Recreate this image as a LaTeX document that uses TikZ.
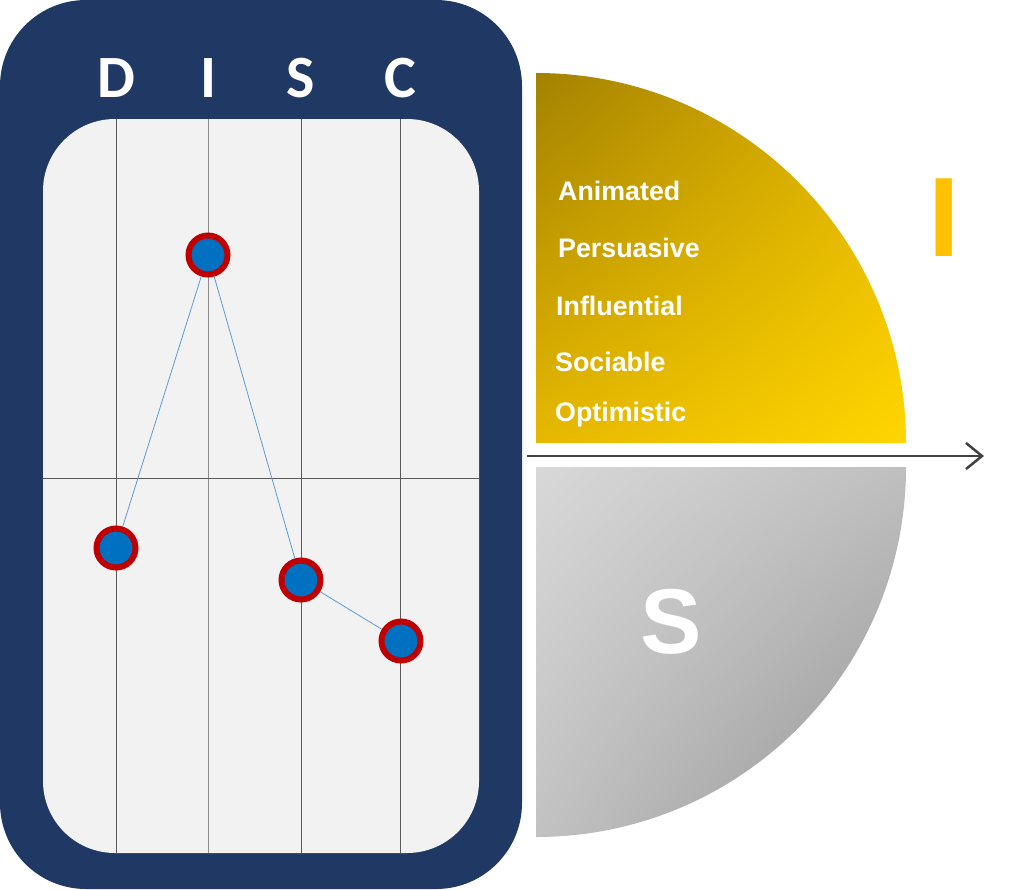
\documentclass[tikz,border=0pt]{standalone}
\usepackage{fontspec}
\setmainfont{Liberation Sans}
\newfontfamily\carlitofont{Carlito}
\usetikzlibrary{arrows.meta,shadings}
\definecolor{navy}{HTML}{203864}
\definecolor{panel}{HTML}{F2F2F2}
\definecolor{gridc}{HTML}{595959}
\definecolor{dotblue}{HTML}{0070C0}
\definecolor{dotred}{HTML}{C00000}
\definecolor{linkblue}{HTML}{5B9BD5}
\definecolor{goldA}{HTML}{A38200}
\definecolor{goldB}{HTML}{E0B200}
\definecolor{goldC}{HTML}{E6B800}
\definecolor{goldD}{HTML}{FFD600}
\definecolor{grayA}{HTML}{D8D8D8}
\definecolor{grayB}{HTML}{BFBFBF}
\definecolor{grayC}{HTML}{C2C2C2}
\definecolor{grayD}{HTML}{939393}
\definecolor{ibar}{HTML}{FFC000}
\definecolor{arrowc}{HTML}{404040}
\tikzset{
  dot/.style={circle, fill=dotblue, draw=dotred, line width=6pt, minimum size=39pt, inner sep=0pt},
  link/.style={draw=linkblue, line width=0.8pt},
  gridline/.style={draw=gridc, line width=1pt},
  disclet/.style={text=white, font=\carlitofont\bfseries\fontsize{60}{60}\selectfont, anchor=base, inner sep=0pt},
  trait/.style={text=white, font=\bfseries\fontsize{26.8}{30}\selectfont, anchor=base west, inner sep=0pt},
}
\begin{document}
\begin{tikzpicture}[x=1pt,y=-1pt]
\useasboundingbox (0,0) rectangle (1024,889);
% outer navy box
\fill[navy, rounded corners=86pt] (0,0) rectangle (522,889);
% inner panel
\fill[panel, rounded corners=72pt] (43,119) rectangle (479,853);
% grid lines
\coordinate (gD0) at (116,119); \coordinate (gD1) at (116,853);
\coordinate (gI0) at (208,119); \coordinate (gI1) at (208,853);
\coordinate (gS0) at (301,119); \coordinate (gS1) at (301,853);
\coordinate (gC0) at (400,119); \coordinate (gC1) at (400,853);
\coordinate (gH0) at (43,478);  \coordinate (gH1) at (479,478);
\draw[gridline] (gD0) -- (gD1);
\draw[gridline, draw=gridc!70] (gI0) -- (gI1);
\draw[gridline] (gS0) -- (gS1);
\draw[gridline] (gC0) -- (gC1);
\draw[gridline] (gH0) -- (gH1);
% DISC letters
\node[disclet] (lD) at (116,97) {D};
\node[disclet] (lI) at (208,97) {I};
\node[disclet] (lS) at (301,97) {S};
\node[disclet] (lC) at (400,97) {C};
% data points
\node[dot] (pD) at (116,548) {};
\node[dot] (pI) at (208,255) {};
\node[dot] (pS) at (301,580) {};
\node[dot] (pC) at (401,641) {};
\draw[link] (pD) -- (pI);
\draw[link] (pI) -- (pS);
\draw[link] (pS) -- (pC);
% yellow quadrant
\shade[upper left=goldA, upper right=goldB, lower left=goldC, lower right=goldD]
  (536,443) -- (536,73) arc[start angle=-90, end angle=0, radius=370] -- cycle;
% gray quadrant
\shade[upper left=grayA, upper right=grayB, lower left=grayC, lower right=grayD]
  (536,467) -- (906,467) arc[start angle=0, end angle=90, radius=370] -- cycle;
% traits
\node[trait] (t1) at (558,200) {Animated};
\node[trait] (t2) at (558,257) {Persuasive};
\node[trait] (t3) at (556,315) {Influential};
\node[trait] (t4) at (555,371) {Sociable};
\node[trait] (t5) at (555,421) {Optimistic};
% big letters
\node[text=white, font=\bfseries\fontsize{92}{92}\selectfont, anchor=base, inner sep=0pt] (bigS) at (671,653) {S};
\node[text=ibar, font=\bfseries\fontsize{113}{113}\selectfont, anchor=base, inner sep=0pt] (bigI) at (944,256) {I};
% axis arrow
\coordinate (ax0) at (527,456);
\coordinate (ax1) at (984,456);
\draw[arrowc, line width=2.5pt, -{Straight Barb[length=16pt, width=26pt, line width=2.5pt]}] (ax0) -- (ax1);
\end{tikzpicture}
\end{document}
